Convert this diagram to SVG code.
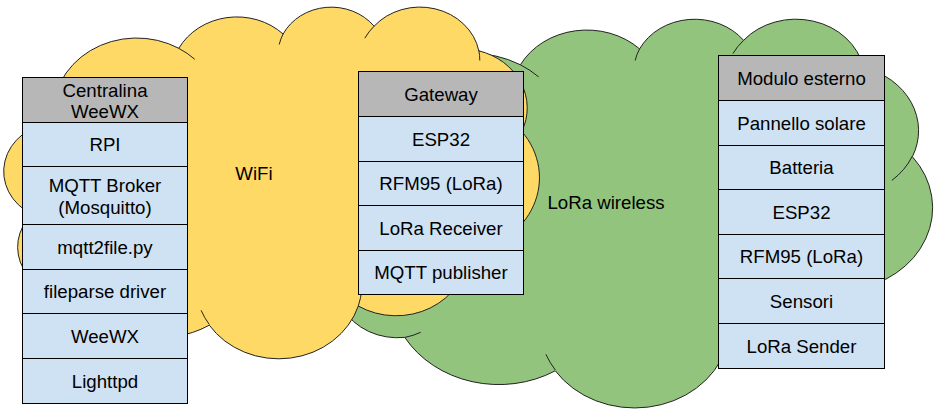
<svg xmlns="http://www.w3.org/2000/svg" width="940" height="410" viewBox="0 0 940 410">
<style>
.cloud{stroke:#222;stroke-width:1}
.inner{fill:none;stroke:#222;stroke-width:1}
.hd{fill:#b7b7b7;stroke:#000;stroke-width:1}
.row{fill:#cfe2f3;stroke:#000;stroke-width:1}
text{font-family:"Liberation Sans",Arial,sans-serif;font-size:18.67px;fill:#000}
.c{text-anchor:middle}
</style>
<rect width="940" height="410" fill="#fff"/>
<g id="cloud-lora">
<path class="cloud" fill="#93c47d" d="M378.0,147.4 A95.20,82.75 0 0 1 520.4,64.8 A75.18,65.44 0 0 1 639.6,48.9 A61.53,53.53 0 0 1 743.6,40.3 A68.47,59.38 0 0 1 863.2,67.5 A75.18,65.49 0 0 1 912.4,156.7 A95.51,83.02 0 0 1 850.3,290.0 A81.55,70.84 0 0 1 725.6,349.5 A95.19,82.98 0 0 1 555.3,370.8 A108.83,94.94 0 0 1 404.8,337.4 A61.47,53.29 0 0 1 352.8,248.1 A61.25,53.53 0 0 1 378.0,147.4 Z"/>
<path class="inner" d="M389.2,253.7 A61.25,53.53 0 0 1 352.8,248.1 M420.7,332.3 A61.47,53.29 0 0 1 404.8,337.4 M555.3,370.0 A95.19,82.98 0 0 1 545.9,354.3 M729.4,330.9 A95.19,82.98 0 0 1 725.6,349.5 M804.1,224.7 A81.55,70.84 0 0 1 850.3,290.0 M912.2,156.3 A75.18,65.49 0 0 1 891.8,180.4 M863.3,66.9 A68.47,59.38 0 0 1 864.3,78.2 M732.9,53.6 A68.47,59.38 0 0 1 743.6,40.3 M635.1,60.5 A61.53,53.53 0 0 1 639.6,48.9 M520.4,64.8 A95.20,82.75 0 0 1 538.7,76.9 M381.2,160.2 A95.20,82.75 0 0 1 378.0,147.4"/>
<text x="606" y="208.5" class="c">LoRa wireless</text>
</g>
<g id="cloud-wifi">
<path class="cloud" fill="#ffd966" d="M54.1,123.1 A83.32,74.88 0 0 1 178.8,48.3 A65.80,59.21 0 0 1 283.1,34.0 A53.85,48.44 0 0 1 374.1,26.2 A59.93,53.74 0 0 1 478.8,50.8 A65.80,59.26 0 0 1 521.8,131.5 A83.59,75.13 0 0 1 467.5,252.1 A71.37,64.10 0 0 1 358.3,306.0 A83.31,75.09 0 0 1 209.3,325.2 A95.25,85.91 0 0 1 77.6,295.0 A53.80,48.22 0 0 1 32.1,214.2 A53.61,48.44 0 0 1 54.1,123.1 Z"/>
<path class="inner" d="M63.9,219.3 A53.61,48.44 0 0 1 32.1,214.2 M91.5,290.4 A53.80,48.22 0 0 1 77.6,295.0 M209.3,324.5 A83.31,75.09 0 0 1 201.1,310.3 M361.7,289.2 A83.31,75.09 0 0 1 358.3,306.0 M427.1,193.0 A71.37,64.10 0 0 1 467.5,252.1 M521.7,131.1 A65.80,59.26 0 0 1 503.8,152.9 M478.8,50.2 A59.93,53.74 0 0 1 479.8,60.5 M364.8,38.2 A59.93,53.74 0 0 1 374.1,26.2 M279.2,44.5 A53.85,48.44 0 0 1 283.1,34.0 M178.7,48.3 A83.32,74.88 0 0 1 194.8,59.3 M56.9,134.7 A83.32,74.88 0 0 1 54.1,123.1"/>
<text x="254" y="180" class="c">WiFi</text>
</g>
<g id="centralina">
<rect class="hd" x="22.5" y="77.5" width="165" height="45"/>
<rect class="row" x="22.5" y="122.5" width="165" height="44"/>
<rect class="row" x="22.5" y="166.5" width="165" height="58"/>
<rect class="row" x="22.5" y="224.5" width="165" height="45"/>
<rect class="row" x="22.5" y="269.5" width="165" height="44"/>
<rect class="row" x="22.5" y="313.5" width="165" height="45"/>
<rect class="row" x="22.5" y="358.5" width="165" height="45"/>
<text x="105" y="96.5" class="c">Centralina</text>
<text x="105" y="118" class="c">WeeWX</text>
<text x="105" y="151.3" class="c">RPI</text>
<text x="105" y="192" class="c">MQTT Broker</text>
<text x="105" y="213.5" class="c">(Mosquitto)</text>
<text x="105" y="253.6" class="c">mqtt2file.py</text>
<text x="105" y="298.1" class="c">fileparse driver</text>
<text x="105" y="342.6" class="c">WeeWX</text>
<text x="105" y="387.6" class="c">Lighttpd</text>
</g>
<g id="gateway">
<rect class="hd" x="358.5" y="71.5" width="165" height="45"/>
<rect class="row" x="358.5" y="116.5" width="165" height="45"/>
<rect class="row" x="358.5" y="161.5" width="165" height="44"/>
<rect class="row" x="358.5" y="205.5" width="165" height="45"/>
<rect class="row" x="358.5" y="250.5" width="165" height="44"/>
<text x="441" y="100.6" class="c">Gateway</text>
<text x="441" y="145.6" class="c">ESP32</text>
<text x="441" y="190.1" class="c">RFM95 (LoRa)</text>
<text x="441" y="234.6" class="c">LoRa Receiver</text>
<text x="441" y="279.1" class="c">MQTT publisher</text>
</g>
<g id="modulo-esterno">
<rect class="hd" x="718.5" y="55.5" width="166" height="45"/>
<rect class="row" x="718.5" y="100.5" width="166" height="45"/>
<rect class="row" x="718.5" y="145.5" width="166" height="44"/>
<rect class="row" x="718.5" y="189.5" width="166" height="45"/>
<rect class="row" x="718.5" y="234.5" width="166" height="44"/>
<rect class="row" x="718.5" y="278.5" width="166" height="45"/>
<rect class="row" x="718.5" y="323.5" width="166" height="45"/>
<text x="801.5" y="84.6" class="c">Modulo esterno</text>
<text x="801.5" y="129.6" class="c">Pannello solare</text>
<text x="801.5" y="174.1" class="c">Batteria</text>
<text x="801.5" y="218.6" class="c">ESP32</text>
<text x="801.5" y="263.1" class="c">RFM95 (LoRa)</text>
<text x="801.5" y="307.6" class="c">Sensori</text>
<text x="801.5" y="352.6" class="c">LoRa Sender</text>
</g>
<g id="connectors"/>
</svg>
